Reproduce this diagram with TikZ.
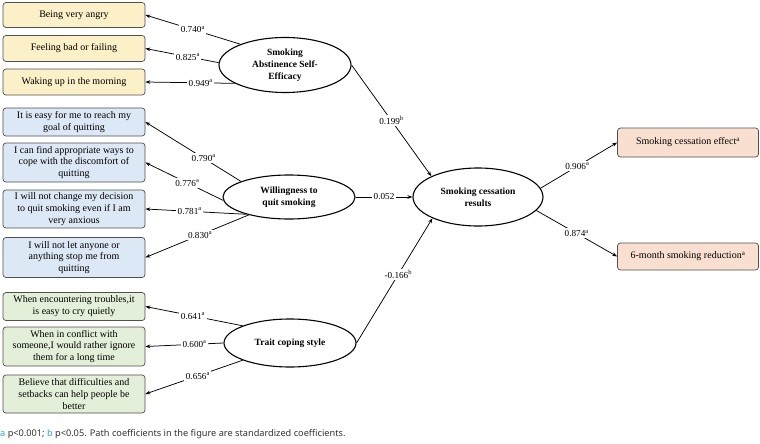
\documentclass[tikz,border=0pt]{standalone}
\usepackage{fontspec}
\setmainfont{Liberation Serif}
\newfontfamily\notefont{Noto Sans}
\usetikzlibrary{arrows.meta,shapes.geometric}
\definecolor{yelfill}{HTML}{FCF0C8}
\definecolor{bluefill}{HTML}{DCE8F5}
\definecolor{greenfill}{HTML}{E3EFD9}
\definecolor{peachfill}{HTML}{F9DFD0}
\definecolor{boxline}{HTML}{505050}
\definecolor{notecol}{HTML}{2AA7DF}
\definecolor{notetext}{HTML}{333333}
\begin{document}
\begin{tikzpicture}[x=1pt,y=-1pt,
  box/.style={draw=boxline, line width=0.7pt, rounded corners=3pt, minimum width=142pt,
              inner sep=0pt, align=center, font=\fontsize{10}{11.8}\selectfont},
  ybox/.style={box, fill=yelfill},
  bbox/.style={box, fill=bluefill},
  gbox/.style={box, fill=greenfill},
  pbox/.style={box, fill=peachfill},
  lat/.style={ellipse, draw, line width=1.1pt, inner sep=0pt, align=center,
              minimum width=132pt, font=\fontsize{9.5}{12}\selectfont\bfseries},
  arr/.style={-{Stealth[length=5pt,width=3.6pt]}, line width=0.75pt},
  lbl/.style={fill=white, inner sep=1.5pt, font=\fontsize{9.2}{10}\selectfont}]
\useasboundingbox (0,0) rectangle (760,444);

% left indicator boxes
\node[ybox, minimum height=25pt] (b1) at (74,15) {Being very angry};
\node[ybox, minimum height=26pt] (b2) at (74,48.5) {Feeling bad or failing};
\node[ybox, minimum height=26pt] (b3) at (74,82) {Waking up in the morning};
\node[bbox, minimum height=28pt] (b4) at (74,122) {It is easy for me to reach my\\goal of quitting};
\node[bbox, minimum height=39pt] (b5) at (74,162.5) {I can find appropriate ways to\\cope with the discomfort of\\quitting};
\node[bbox, minimum height=38pt] (b6) at (74,209) {I will not change my decision\\to quit smoking even if I am\\very anxious};
\node[bbox, minimum height=40pt] (b7) at (74,257.5) {I will not let anyone or\\anything stop me from\\quitting};
\node[gbox, minimum height=28pt] (b8) at (74,306.5) {When encountering troubles,it\\is easy to cry quietly};
\node[gbox, minimum height=39pt] (b9) at (74,346.5) {When in conflict with\\someone,I would rather ignore\\them for a long time};
\node[gbox, minimum height=38pt] (b10) at (74,394) {Believe that difficulties and\\setbacks can help people be\\better};

% right outcome boxes
\node[pbox, minimum width=141pt, minimum height=29pt] (e1) at (688,142.5) {Smoking cessation effect\textsuperscript{a}};
\node[pbox, minimum width=141pt, minimum height=27pt] (e2) at (688,256.5) {6-month smoking reduction\textsuperscript{a}};

% latent variables
\node[lat, minimum height=55pt] (sase) at (285,65) {Smoking\\Abstinence Self-\\Efficacy};
\node[lat, minimum height=44pt] (will) at (289,197) {Willingness to\\quit smoking};
\node[lat, minimum height=48pt] (trait) at (290,343) {Trait coping style};
\node[lat, minimum width=130pt, minimum height=58pt] (scr) at (478,197) {Smoking cessation\\results};

% loadings
\draw[arr] (sase.155) -- node[lbl, pos=0.5] {0.740\textsuperscript{a}} (b1.east);
\draw[arr] (sase.178) -- node[lbl, pos=0.42] {0.825\textsuperscript{a}} (b2.east);
\draw[arr] (sase.200) -- node[lbl, pos=0.38] {0.949\textsuperscript{a}} (b3.east);

\draw[arr] (will.162) -- node[lbl, pos=0.39] {0.790\textsuperscript{a}} (b4.east);
\draw[arr] (will.183) -- node[lbl, pos=0.46] {0.776\textsuperscript{a}} (b5.east);
\draw[arr] (will.202) -- node[lbl, pos=0.56] {0.781\textsuperscript{a}} (b6.east);
\draw[arr] (will.204) -- node[lbl, pos=0.47] {0.830\textsuperscript{a}} (b7.east);

\draw[arr] (trait.160) -- node[lbl, pos=0.51] {0.641\textsuperscript{a}} (b8.east);
\draw[arr] (trait.180) -- node[lbl, pos=0.37] {0.600\textsuperscript{a}} (b9.east);
\draw[arr] (trait.200) -- node[lbl, pos=0.46] {0.656\textsuperscript{a}} (b10.east);

% structural paths
\draw[arr] (sase.east) -- node[lbl, pos=0.5] {0.199\textsuperscript{b}} (scr.156);
\draw[arr] (will.east) -- node[lbl, pos=0.5] {0.052} (scr.west);
\draw[arr] (trait.east) -- node[lbl, pos=0.55] {-0.166\textsuperscript{b}} (scr.205);

\draw[arr] (scr.8) -- node[lbl, pos=0.48] {0.906\textsuperscript{a}} (e1.west);
\draw[arr] (scr.347) -- node[lbl, pos=0.5] {0.874\textsuperscript{a}} (e2.west);

% footnote
\node[anchor=west, inner sep=0pt, font=\notefont\fontsize{9.2}{11}\selectfont, text=notetext] (note) at (0,434)
  {\textcolor{notecol}{a} p<0.001; \textcolor{notecol}{b} p<0.05. Path coefficients in the figure are standardized coefficients.};
\end{tikzpicture}
\end{document}
